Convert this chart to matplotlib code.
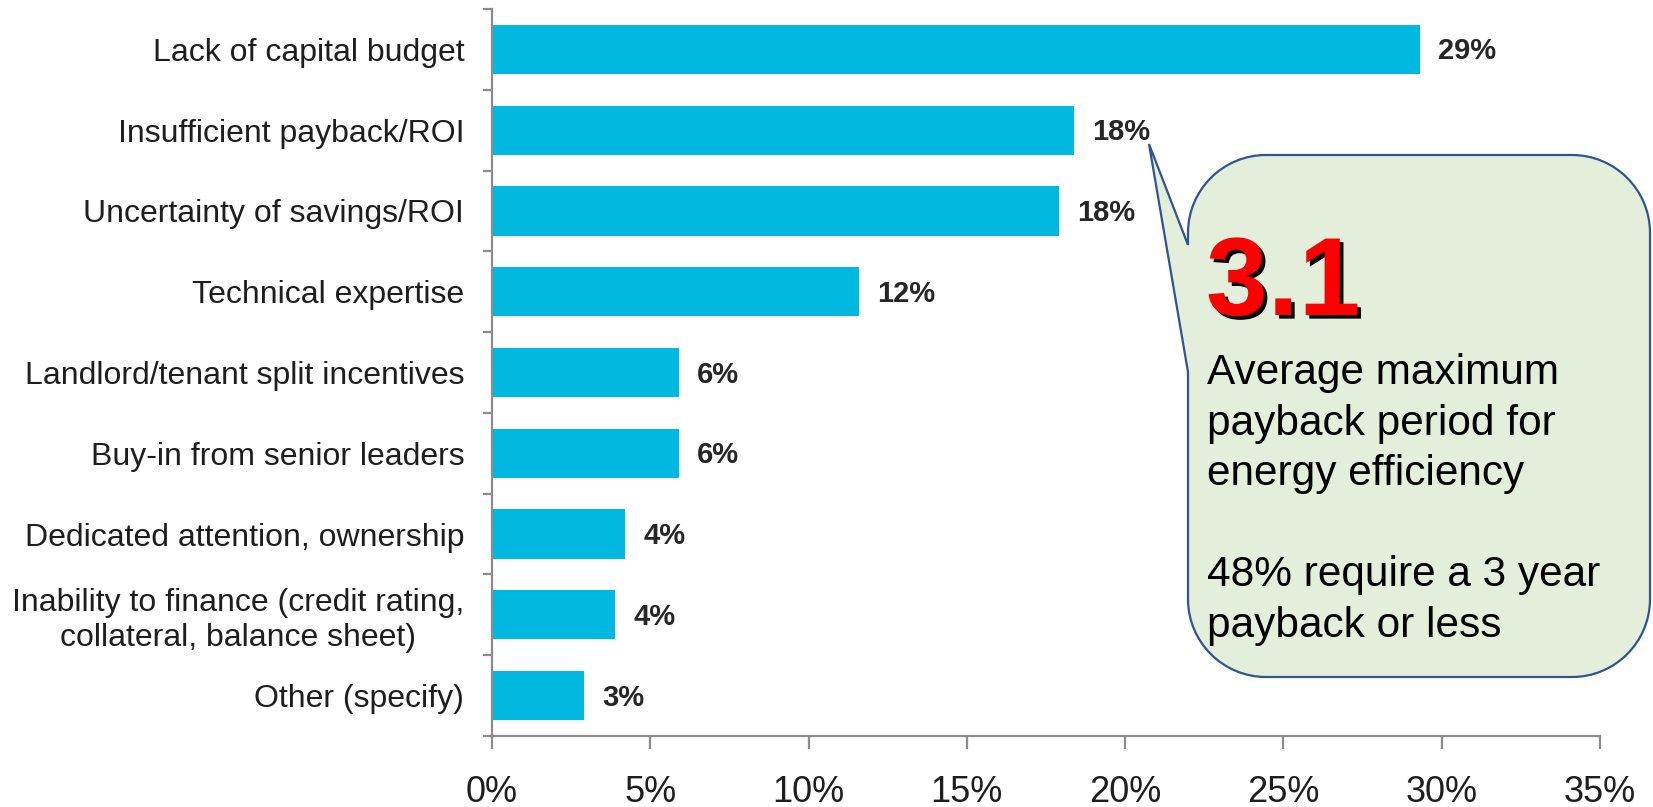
import matplotlib
matplotlib.use("Agg")
import matplotlib.pyplot as plt
from matplotlib import font_manager
from matplotlib.path import Path
from matplotlib.patches import PathPatch
import matplotlib.patheffects as pe

# Survey results: barriers to energy-efficiency investment (% of respondents)
categories = [
    "Lack of capital budget",
    "Insufficient payback/ROI",
    "Uncertainty of savings/ROI",
    "Technical expertise",
    "Landlord/tenant split incentives",
    "Buy-in from senior leaders",
    "Dedicated attention, ownership",
    "Inability to finance (credit rating,\ncollateral, balance sheet)",
    "Other (specify)",
]
shares = [29.3, 18.4, 17.9, 11.6, 5.9, 5.9, 4.2, 3.9, 2.9]
x_ticks = [0, 5, 10, 15, 20, 25, 30, 35]
x_tick_labels = [f"{t}%" for t in x_ticks]

callout_value = "3.1"
callout_lines = [
    "Average maximum",
    "payback period for",
    "energy efficiency",
    "",
    "48% require a 3 year",
    "payback or less",
]

W, H = 1653, 807
BAR = "#00B8E0"
SPINE = "#8C8C8C"
TEXT = "#1E1E1E"

names = {f.name for f in font_manager.fontManager.ttflist}
SANS = "Liberation Sans"
HAS_NARROW = "Liberation Sans Narrow" in names
NARROW = "Liberation Sans Narrow" if HAS_NARROW else SANS
narrow_size = 31 if HAS_NARROW else 26
value_size = 24 if HAS_NARROW else 21

plt.rcParams["font.family"] = [SANS, "DejaVu Sans"]

fig = plt.figure(figsize=(W / 100, H / 100), dpi=100)
ax = fig.add_axes([492 / W, 1 - 736 / H, (1600 - 492) / W, (736 - 9) / H])

ypos = list(range(len(categories)))
ax.barh(ypos, shares, height=0.61, color=BAR, zorder=2)
ax.set_xlim(0, 35)
ax.set_ylim(len(categories) - 0.5, -0.5)

for y, v in zip(ypos, shares):
    ax.annotate(f"{v:.0f}%", xy=(v, y), xytext=(13, -1.5), textcoords="offset points",
                va="center", ha="left", fontsize=value_size, fontweight="bold",
                family=NARROW, color="#262626")

# axes styling
for side in ("top", "right"):
    ax.spines[side].set_visible(False)
for side in ("left", "bottom"):
    ax.spines[side].set_color(SPINE)
    ax.spines[side].set_linewidth(1.6)

ax.set_yticks(ypos)
ax.set_yticklabels(categories, fontsize=23, color=TEXT, multialignment="center")
ax.tick_params(axis="y", which="major", length=0, pad=20)
ax.set_yticks([i - 0.5 for i in range(len(categories) + 1)], minor=True)
ax.tick_params(axis="y", which="minor", length=6.5, width=1.6, color=SPINE, direction="out")

ax.set_xticks(x_ticks)
ax.set_xticklabels(x_tick_labels, fontsize=narrow_size, color=TEXT, family=NARROW)
ax.tick_params(axis="x", which="major", length=9, width=1.6, color=SPINE, direction="out", pad=19)

# speech-bubble callout (figure pixel coordinates, y measured from the top)
x0, x1, y0, y1, r = 1188, 1650, 155, 677, 78
k = 0.5523 * r
tip = (1149, 144)
wedge_top, wedge_bot = 245, 372
pts = [
    ((x0 + r, y0), Path.MOVETO),
    ((x1 - r, y0), Path.LINETO),
    ((x1 - r + k, y0), Path.CURVE4), ((x1, y0 + r - k), Path.CURVE4), ((x1, y0 + r), Path.CURVE4),
    ((x1, y1 - r), Path.LINETO),
    ((x1, y1 - r + k), Path.CURVE4), ((x1 - r + k, y1), Path.CURVE4), ((x1 - r, y1), Path.CURVE4),
    ((x0 + r, y1), Path.LINETO),
    ((x0 + r - k, y1), Path.CURVE4), ((x0, y1 - r + k), Path.CURVE4), ((x0, y1 - r), Path.CURVE4),
    ((x0, wedge_bot), Path.LINETO),
    (tip, Path.LINETO),
    ((x0, wedge_top), Path.LINETO),
    ((x0, y0 + r), Path.LINETO),
    ((x0, y0 + r - k), Path.CURVE4), ((x0 + r - k, y0), Path.CURVE4), ((x0 + r, y0), Path.CURVE4),
    ((x0 + r, y0), Path.CLOSEPOLY),
]
verts = [(px / W, 1 - py / H) for (px, py), _ in pts]
codes = [c for _, c in pts]
bubble = PathPatch(Path(verts, codes), facecolor="#E3EFDB", edgecolor="#2F5490",
                   linewidth=1.6, transform=fig.transFigure, zorder=5)
fig.patches.append(bubble)

big = fig.text(1206 / W, 1 - 315 / H, callout_value, fontsize=80, fontweight="bold",
               color="#FF0000", ha="left", va="baseline", zorder=6)
big.set_path_effects([pe.SimplePatchShadow(offset=(2.6, -2.6), shadow_rgbFace="black", alpha=1.0),
                      pe.Normal()])

baseline = 384
for line in callout_lines:
    if line:
        fig.text(1207 / W, 1 - baseline / H, line, fontsize=30.5, color="black",
                 ha="left", va="baseline", zorder=6)
    baseline += 50.5

fig.savefig("out.png", dpi=100)
